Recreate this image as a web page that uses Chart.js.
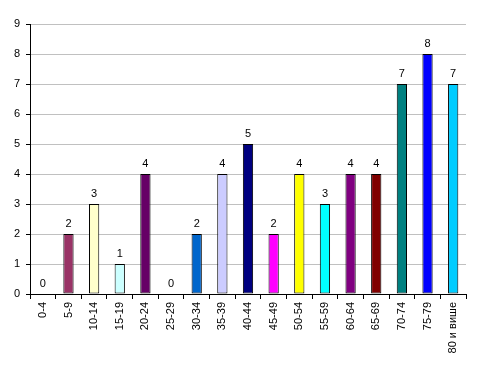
<!DOCTYPE html>
<html lang="sr">
<head>
<meta charset="UTF-8">
<title>Chart</title>
<script src="https://cdn.jsdelivr.net/npm/chart.js"></script>
<style>
  html, body { margin: 0; padding: 0; background: #ffffff; }
  #wrap { width: 481px; height: 365px; }
</style>
</head>
<body>
<div id="wrap"><canvas id="barChart" width="481" height="365"></canvas></div>
<script>
  const ageGroups = ['0-4', '5-9', '10-14', '15-19', '20-24', '25-29', '30-34', '35-39', '40-44',
    '45-49', '50-54', '55-59', '60-64', '65-69', '70-74', '75-79', '80 и више'];
  const counts = [0, 2, 3, 1, 4, 0, 2, 4, 5, 2, 4, 3, 4, 4, 7, 8, 7];
  const barColors = ['#ffffff', '#993366', '#ffffcc', '#ccffff', '#660066', '#ffffff', '#0066cc', '#ccccff', '#000080',
    '#ff00ff', '#ffff00', '#00ffff', '#800080', '#800000', '#008080', '#0000ff', '#00ccff'];
  const yTicks = [0, 1, 2, 3, 4, 5, 6, 7, 8, 9];

  const fontFamily = '"Liberation Sans", Arial, sans-serif';

  // value labels above each bar
  const valueLabels = {
    id: 'valueLabels',
    afterDatasetsDraw(chart) {
      const ctx = chart.ctx;
      const meta = chart.getDatasetMeta(0);
      ctx.save();
      ctx.fillStyle = '#000';
      ctx.font = '11px ' + fontFamily;
      ctx.textAlign = 'center';
      ctx.textBaseline = 'bottom';
      meta.data.forEach((bar, i) => {
        ctx.fillText(String(counts[i]), bar.x, bar.y - 5);
      });
      ctx.restore();
    }
  };

  new Chart(document.getElementById('barChart').getContext('2d'), {
    type: 'bar',
    data: {
      labels: ageGroups,
      datasets: [{
        data: counts,
        backgroundColor: barColors,
        borderColor: '#000',
        borderWidth: 1,
        borderSkipped: false,
        categoryPercentage: 1,
        barPercentage: 0.4
      }]
    },
    options: {
      responsive: false,
      animation: false,
      layout: { padding: { top: 24, right: 15, left: 0, bottom: 0 } },
      plugins: {
        legend: { display: false },
        tooltip: { enabled: false }
      },
      scales: {
        x: {
          afterFit(scale) { scale.height = 71; },
          ticks: {
            minRotation: 90,
            maxRotation: 90,
            autoSkip: false,
            padding: 3,
            color: '#000',
            font: { family: fontFamily, size: 11 }
          },
          grid: {
            offset: true,
            drawOnChartArea: false,
            drawTicks: true,
            tickLength: 5,
            color: '#000'
          },
          border: { color: '#000', width: 1 }
        },
        y: {
          min: 0,
          max: 9,
          afterFit(scale) { scale.width = 30; },
          afterBuildTicks(scale) { scale.ticks = yTicks.map(v => ({ value: v })); },
          ticks: {
            color: '#000',
            padding: 6,
            font: { family: fontFamily, size: 11 }
          },
          grid: {
            color: '#c0c0c0',
            tickColor: '#000',
            tickLength: 4
          },
          border: { color: '#000', width: 1 }
        }
      }
    },
    plugins: [valueLabels]
  });
</script>
</body>
</html>
